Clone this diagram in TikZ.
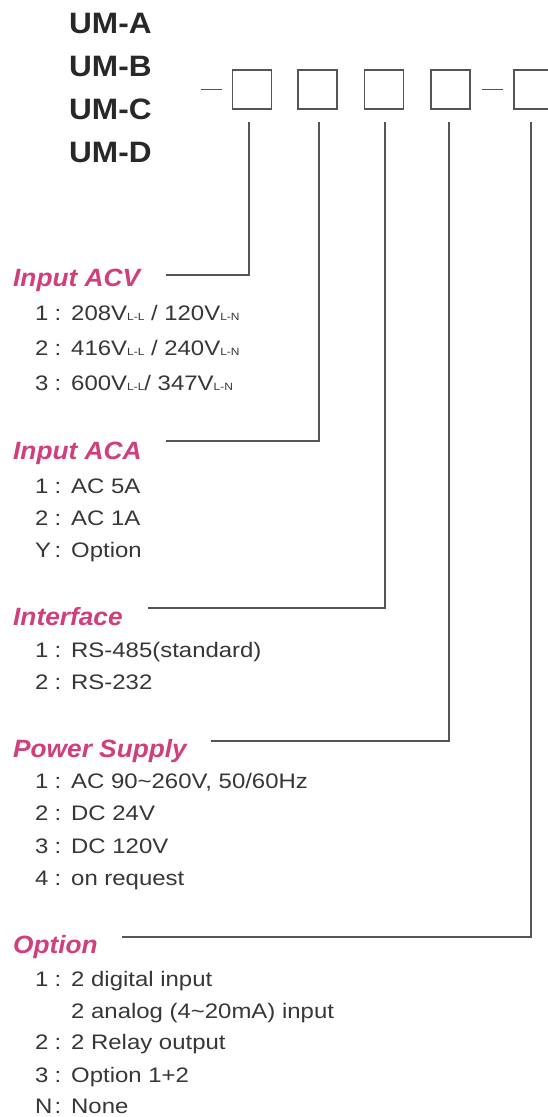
\documentclass[tikz,border=0pt]{standalone}
\usepackage{fontspec}
\setmainfont{Liberation Sans}
\newfontfamily\itemfont[FakeStretch=1.14]{Liberation Sans}
\newfontfamily\titlefont[FakeStretch=1.05]{Liberation Sans}
\newfontfamily\umfont[FakeStretch=1.07]{Liberation Sans}
\definecolor{pinkt}{RGB}{208,62,124}
\definecolor{txtgray}{RGB}{55,55,55}
\definecolor{linegray}{RGB}{85,85,85}
\definecolor{umdark}{RGB}{40,40,40}
\newcommand\subLL[1]{{\fontsize{10.5}{11}\selectfont #1}}
\newcommand\ItemRow[4]{%
  \node[itemtxt] (#1n) at (35,#2) {#3};
  \node[itemtxt,anchor=base] (#1c) at (58,#2) {:};
  \node[itemtxt] (#1) at (71,#2) {#4};}
\tikzset{
  umlabel/.style={anchor=base west, inner sep=0pt, text=umdark,
    font=\umfont\bfseries\fontsize{29.5}{30}\selectfont},
  grouptitle/.style={anchor=base west, inner sep=0pt, text=pinkt,
    font=\titlefont\bfseries\itshape\fontsize{25}{26}\selectfont},
  itemtxt/.style={anchor=base west, inner sep=0pt, text=txtgray,
    font=\itemfont\fontsize{21}{22}\selectfont},
  codebox/.style={draw=linegray, line width=1.6pt, minimum width=39pt,
    minimum height=39pt, inner sep=0pt},
  conn/.style={draw=linegray, line width=1.6pt},
}
\begin{document}
\begin{tikzpicture}[x=1pt, y=-1pt]
\useasboundingbox (0,0) rectangle (548,1117);
\clip (0,0) rectangle (548,1117);
\fill[white] (0,0) rectangle (548,1117);
% model names
\node[umlabel] (uma) at (69,33) {UM-A};
\node[umlabel] (umb) at (69,76) {UM-B};
\node[umlabel] (umc) at (69,119) {UM-C};
\node[umlabel] (umd) at (69,162) {UM-D};
% code boxes
\node[codebox] (b1) at (252,89.5) {};
\node[codebox] (b2) at (317.5,89.5) {};
\node[codebox] (b3) at (384,89.5) {};
\node[codebox] (b4) at (450.5,89.5) {};
\node[codebox] (b5) at (533.5,89.5) {};
\draw[conn] ([xshift=-10pt]b1.west) -- ([xshift=-31pt]b1.west);
\draw[conn] ([xshift=-10pt]b5.west) -- ([xshift=-31pt]b5.west);
% group titles
\node[grouptitle] (tacv) at (13,286) {Input ACV};
\node[grouptitle] (taca) at (13,459) {Input ACA};
\node[grouptitle] (tif) at (13,625) {Interface};
\node[grouptitle] (tps) at (13,757) {Power Supply};
\node[grouptitle] (topt) at (13,953) {Option};
% connector ends
\coordinate (eacv) at (166,275);
\coordinate (eaca) at (166,441);
\coordinate (eif) at (148,608);
\coordinate (eps) at (211,741);
\coordinate (eopt) at (122,937);
\draw[conn] ([xshift=-3pt,yshift=-12.5pt]b1.south) |- (eacv);
\draw[conn] ([xshift=1.5pt,yshift=-12.5pt]b2.south) |- (eaca);
\draw[conn] ([xshift=1pt,yshift=-12.5pt]b3.south) |- (eif);
\draw[conn] ([xshift=-1.5pt,yshift=-12.5pt]b4.south) |- (eps);
\draw[conn] ([xshift=-2.5pt,yshift=-12.5pt]b5.south) |- (eopt);
% items
\ItemRow{acv1}{320}{1}{208V\subLL{L-L} / 120V\subLL{L-N}}
\ItemRow{acv2}{355}{2}{416V\subLL{L-L} / 240V\subLL{L-N}}
\ItemRow{acv3}{390}{3}{600V\subLL{L-L}/ 347V\subLL{L-N}}
\ItemRow{aca1}{493}{1}{AC 5A}
\ItemRow{aca2}{525}{2}{AC 1A}
\ItemRow{aca3}{557}{Y}{Option}
\ItemRow{if1}{657}{1}{RS-485(standard)}
\ItemRow{if2}{689}{2}{RS-232}
\ItemRow{ps1}{788}{1}{AC 90\textasciitilde260V, 50/60Hz}
\ItemRow{ps2}{820}{2}{DC 24V}
\ItemRow{ps3}{853}{3}{DC 120V}
\ItemRow{ps4}{885}{4}{on request}
\ItemRow{op1}{986}{1}{2 digital input}
\node[itemtxt] (op1b) at (71,1018) {2 analog (4\textasciitilde20mA) input};
\ItemRow{op2}{1049}{2}{2 Relay output}
\ItemRow{op3}{1082}{3}{Option 1+2}
\ItemRow{op4}{1113}{N}{None}
\end{tikzpicture}
\end{document}
